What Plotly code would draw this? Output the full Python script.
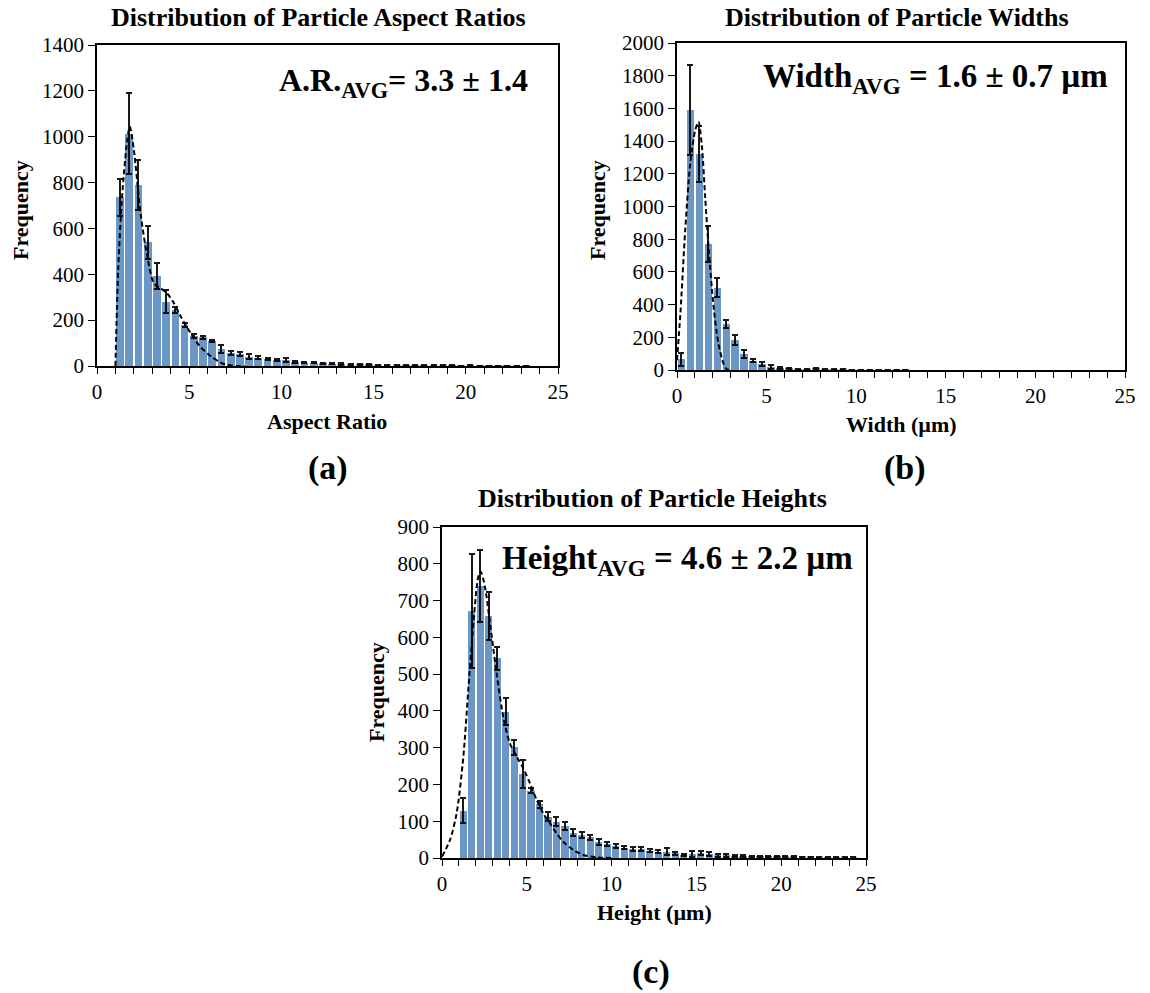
import plotly.graph_objects as go

# ---------------- data ----------------
ar_bins = [1.25, 1.75, 2.25, 2.75, 3.25, 3.75, 4.25, 4.75, 5.25, 5.75, 6.25, 6.75, 7.25, 7.75,
           8.25, 8.75, 9.25, 9.75, 10.25, 10.75, 11.25, 11.75, 12.25, 12.75, 13.25, 13.75,
           14.25, 14.75, 15.25, 15.75, 16.25, 16.75, 17.25, 17.75, 18.25, 18.75, 19.25, 19.75,
           20.25, 20.75, 21.25, 21.75, 22.25, 22.75, 23.25]
ar_freq = [735, 1014, 789, 539, 392, 280, 244, 179, 131, 125, 109, 73, 58, 52,
           41, 36, 32, 26, 26, 18, 15, 14, 12, 10, 8, 6,
           6, 5, 4, 4, 3, 3, 3, 2, 3, 2, 2, 1,
           2, 1, 1, 1, 1, 1, 1]
ar_err = [80, 178, 110, 73, 58, 50, 15, 10, 10, 8, 6, 18, 8, 10,
          10, 6, 5, 5, 8, 4, 4, 3, 3, 3, 3, 2,
          2, 2, 2, 2, 2, 2, 1, 1, 2, 1, 1, 1,
          1, 1, 1, 1, 1, 1, 1]
ar_fit_x = [1.0, 1.15, 1.36, 1.64, 1.78, 2.0, 2.36, 2.73, 3.09, 3.45, 3.8, 4.18, 4.55,
            5.09, 5.6, 6.2, 6.7, 7.1, 7.6, 8.0]
ar_fit_y = [0, 420, 738, 985, 1044, 942, 666, 477, 360, 339, 317, 273, 215,
            142, 84, 41, 15, 4, 0, 0]

w_bins = [0.25, 0.75, 1.25, 1.75, 2.25, 2.75, 3.25, 3.75, 4.25, 4.75, 5.25, 5.75, 6.25,
          6.75, 7.25, 7.75, 8.25, 8.75, 9.25, 9.75, 10.25, 10.75, 11.25, 11.75, 12.25, 12.75]
w_freq = [65, 1590, 1321, 769, 504, 281, 183, 98, 57, 37, 20, 12, 8,
          6, 5, 8, 4, 3, 3, 2, 2, 2, 1, 1, 1, 1]
w_err = [38, 275, 170, 110, 56, 25, 30, 25, 10, 10, 12, 5, 4,
         3, 3, 4, 2, 2, 2, 1, 1, 1, 1, 1, 1, 1]
w_fit_x = [0.0, 0.19, 0.46, 0.74, 1.02, 1.2, 1.39, 1.57, 1.76, 2.04, 2.31, 2.59, 2.78, 3.0]
w_fit_y = [60, 347, 856, 1264, 1468, 1519, 1366, 1060, 754, 387, 163, 41, 4, 0]

h_bins = [1.25, 1.75, 2.25, 2.75, 3.25, 3.75, 4.25, 4.75, 5.25, 5.75, 6.25, 6.75, 7.25,
          7.75, 8.25, 8.75, 9.25, 9.75, 10.25, 10.75, 11.25, 11.75, 12.25, 12.75, 13.25,
          13.75, 14.25, 14.75, 15.25, 15.75, 16.25, 16.75, 17.25, 17.75, 18.25, 18.75,
          19.25, 19.75, 20.25, 20.75, 21.25, 21.75, 22.25, 22.75, 23.25, 23.75, 24.25]
h_freq = [129, 672, 740, 659, 543, 398, 301, 228, 183, 146, 112, 99, 87,
          69, 63, 56, 44, 38, 33, 28, 24, 25, 20, 17, 17,
          13, 8, 10, 13, 11, 7, 7, 6, 6, 4, 4,
          3, 4, 3, 3, 3, 3, 2, 2, 2, 2, 2]
h_err = [33, 155, 98, 65, 32, 36, 20, 38, 6, 10, 12, 12, 12,
         10, 8, 6, 8, 6, 6, 4, 5, 5, 4, 4, 10,
         4, 3, 8, 5, 5, 4, 3, 3, 3, 2, 2,
         2, 2, 2, 2, 1, 1, 1, 1, 1, 1, 1]
h_fit_x = [0.0, 0.47, 0.86, 1.26, 1.55, 1.85, 2.14, 2.28, 2.53, 2.83, 3.22, 3.61, 4.0,
           4.4, 4.79, 5.19, 5.58, 5.97, 6.37, 6.76, 7.15, 7.74, 8.33, 9.1, 10.0]
h_fit_y = [4, 49, 121, 276, 457, 638, 765, 779, 738, 638, 502, 384, 312,
           276, 244, 203, 158, 121, 94, 67, 44, 22, 8, 2, 0]

# ---------------- layout helpers ----------------
W, H = 1150, 993
FONT = "Liberation Serif"
BAR_COLOR = "#6b97c7"


def px(x):
    return x / W


def py(y):
    return 1 - y / H


panels = [
    # (bins, freq, err, fitx, fity, axis suffix, pixel box, ymax, dtick)
    (ar_bins, ar_freq, ar_err, ar_fit_x, ar_fit_y, "", (97, 45, 558, 366), 1400, 200),
    (w_bins, w_freq, w_err, w_fit_x, w_fit_y, "2", (677, 43, 1125, 370), 2000, 200),
    (h_bins, h_freq, h_err, h_fit_x, h_fit_y, "3", (442, 527, 866, 858), 900, 100),
]

fig = go.Figure()
layout = {}
for bins, freq, err, fx, fy, sfx, box, ymax, dt in panels:
    xa = "x" + sfx
    ya = "y" + sfx
    fig.add_trace(go.Bar(
        x=bins, y=freq, width=0.42, marker=dict(color=BAR_COLOR, line=dict(width=0)),
        error_y=dict(type="data", array=err, color="rgba(0,0,0,0.9)", thickness=2, width=3),
        xaxis=xa, yaxis=ya, showlegend=False))
    fig.add_trace(go.Scatter(
        x=fx, y=fy, mode="lines", line=dict(color="black", width=2, dash="5px,3px",
                                            shape="spline", smoothing=0.8),
        xaxis=xa, yaxis=ya, showlegend=False))
    x0, y0, x1, y1 = box
    layout["xaxis" + sfx] = dict(
        domain=[px(x0), px(x1)], anchor=ya, range=[0, 25], dtick=5, tick0=0, automargin=False,
        showgrid=False, zeroline=False, showline=True, mirror=True, linecolor="black",
        linewidth=1.5, ticks="outside", ticklen=6, tickwidth=1.2, tickcolor="black",
        tickfont=dict(family=FONT, size=21, color="black"),
        minor=dict(dtick=1, tick0=0, ticks="outside", ticklen=6, tickwidth=1, tickcolor="black",
                   showgrid=False))
    layout["yaxis" + sfx] = dict(
        domain=[py(y1), py(y0)], anchor=xa, range=[0, ymax], dtick=dt, tick0=0, automargin=False,
        showgrid=False, zeroline=False, showline=True, mirror=True, linecolor="black",
        linewidth=1.5, ticks="outside", ticklen=7, tickwidth=1.2, tickcolor="black",
        tickfont=dict(family=FONT, size=21, color="black"))

annotations = []


def txt(text, x, y, size, angle=0, xanchor="center"):
    annotations.append(dict(text=text, x=px(x), y=py(y), xref="paper", yref="paper",
                            showarrow=False, xanchor=xanchor, yanchor="middle", textangle=angle,
                            font=dict(family=FONT, size=size, color="black")))


# titles
txt("<b>Distribution of Particle Aspect Ratios</b>", 318, 17, 26)
txt("<b>Distribution of Particle Widths</b>", 897, 17, 26)
txt("<b>Distribution of Particle Heights</b>", 652, 498, 26)
# axis titles
txt("<b>Aspect Ratio</b>", 327, 421, 22)
txt("<b>Width (µm)</b>", 901, 425, 22)
txt("<b>Height (µm)</b>", 654, 912, 22)
txt("<b>Frequency</b>", 20, 210, 22, angle=-90)
txt("<b>Frequency</b>", 597, 210, 22, angle=-90)
txt("<b>Frequency</b>", 376, 692, 22, angle=-90)
# panel labels
txt("<b>(a)</b>", 328, 468, 34)
txt("<b>(b)</b>", 905, 468, 34)
txt("<b>(c)</b>", 651, 972, 34)
# averages
txt("<b>A.R.<sub>AVG</sub>= 3.3 ± 1.4</b>", 530, 82, 32, xanchor="right")
txt("<b>Width<sub>AVG</sub> = 1.6 ± 0.7 µm</b>", 1110, 78, 33, xanchor="right")
txt("<b>Height<sub>AVG</sub> = 4.6 ± 2.2 µm</b>", 855, 560, 33, xanchor="right")

fig.update_layout(
    width=W, height=H, margin=dict(l=0, r=0, t=0, b=0, autoexpand=False),
    paper_bgcolor="white", plot_bgcolor="white", bargap=0,
    annotations=annotations, **layout)

fig.write_html(
    "out.html",
    config={"displayModeBar": False},
    post_script="document.body.style.margin='0px';document.body.style.overflow='hidden';")
